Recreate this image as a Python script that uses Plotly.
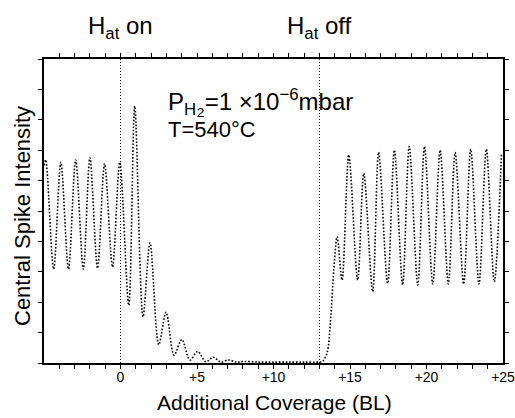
import plotly.graph_objects as go

coverage = [-5.0, -4.89, -4.37, -3.9, -3.4, -2.93, -2.43, -2.0, -1.5, -1.04, -0.52, -0.05,
            0.54, 0.93, 1.47, 1.93, 2.5, 2.98, 3.5, 4.01, 4.54, 5.05, 5.58, 6.06, 6.55, 7.04,
            7.6, 8.1, 9.0, 10.0, 11.0, 12.0, 13.0, 13.2, 13.5, 13.73, 13.94, 14.16, 14.48,
            14.92, 15.5, 15.9, 16.48, 16.87, 17.46, 17.9, 18.44, 18.87, 19.43, 19.87, 20.41,
            20.89, 21.43, 21.87, 22.43, 22.89, 23.43, 23.91, 24.43, 24.9]
intensity = [6.5, 6.68, 3.09, 6.6, 3.09, 6.68, 3.09, 6.75, 3.12, 6.55, 3.16, 6.6,
             1.9, 8.45, 1.52, 3.95, 0.6, 1.67, 0.26, 0.77, 0.1, 0.38, 0.04, 0.19, 0.03, 0.1,
             0.03, 0.05, 0.03, 0.03, 0.03, 0.03, 0.03, 0.05, 0.33, 1.41, 3.06, 4.15, 2.73,
             6.84, 2.73, 6.24, 2.35, 6.93, 2.62, 7.0, 2.57, 7.12, 2.57, 7.12, 2.6,
             7.0, 2.6, 6.92, 2.6, 7.03, 2.6, 7.03, 2.67, 6.9]

tick_vals = [0, 5, 10, 15, 20, 25]
tick_text = ["0", "+5", "+10", "+15", "+20", "+25"]
marker_lines = [0, 13]
marker_labels = ["H<sub>at</sub> on", "H<sub>at</sub> off"]

FONT = "Liberation Sans, Arial, Helvetica, sans-serif"
W, H = 515, 418
ML, MR, MT, MB = 44, 12, 59, 55
PW, PH = W - ML - MR, H - MT - MB


def px2paper(px, py):
    return (px - ML) / PW, (H - MB - py) / PH


fig = go.Figure()
fig.add_trace(go.Scatter(
    x=coverage, y=intensity, mode="lines",
    line=dict(color="black", width=1.6, dash="1.6px,1.8px", shape="spline", smoothing=0.9),
    hoverinfo="skip", showlegend=False,
))

for xv, lab in zip(marker_lines, marker_labels):
    fig.add_shape(type="line", x0=xv, x1=xv, y0=0, y1=1, xref="x", yref="paper",
                  line=dict(color="black", width=1, dash="1px,2px"))
    fig.add_annotation(x=xv, y=1, xref="x", yref="paper", yshift=32, text=lab,
                       showarrow=False, font=dict(size=24, color="black", family=FONT),
                       xanchor="center", yanchor="middle")

fig.add_annotation(x=3.0, y=8.58, xref="x", yref="y", xanchor="left", yanchor="middle",
                   text="P<sub>H<span style='font-size:22px'>₂</span></sub>=1 ×10<sup>−6</sup>mbar",
                   showarrow=False, font=dict(size=24, color="black", family=FONT))
fig.add_annotation(x=3.0, y=7.68, xref="x", yref="y", xanchor="left", yanchor="middle",
                   text="T=540°C", showarrow=False,
                   font=dict(size=22, color="black", family=FONT))

# axis titles placed as annotations for exact positioning
ax, ay = px2paper(274, 402)
fig.add_annotation(x=ax, y=ay, xref="paper", yref="paper", text="Additional Coverage (BL)",
                   showarrow=False, font=dict(size=21, color="black", family=FONT),
                   xanchor="center", yanchor="middle")
bx, by = px2paper(22, 216)
fig.add_annotation(x=bx, y=by, xref="paper", yref="paper", text="Central Spike Intensity",
                   textangle=-90, showarrow=False,
                   font=dict(size=22, color="black", family=FONT),
                   xanchor="center", yanchor="middle")

fig.update_xaxes(
    range=[-5, 25], tickvals=tick_vals, ticktext=tick_text,
    ticks="inside", ticklen=0.1, tickwidth=1, tickcolor="black",
    minor=dict(dtick=1, tick0=0, ticks="outside", ticklen=4, tickcolor="black", tickwidth=1),
    showline=True, linecolor="black", linewidth=1.5, mirror="ticks",
    showgrid=False, zeroline=False, automargin=False, ticklabeloverflow="allow",
    tickfont=dict(size=14, color="black", family=FONT),
)
fig.update_yaxes(
    range=[0, 10], dtick=1, showticklabels=False,
    ticks="outside", ticklen=4, tickwidth=1, tickcolor="black",
    showline=True, linecolor="black", linewidth=1.5, mirror="ticks",
    showgrid=False, zeroline=False, automargin=False,
)

fig.update_layout(
    width=W, height=H,
    margin=dict(l=ML, r=MR, t=MT, b=MB),
    paper_bgcolor="white", plot_bgcolor="white",
    font=dict(family=FONT, color="black"),
)

fig.write_html("out.html", config={"displayModeBar": False},
               post_script="document.body.style.margin='0px';document.body.style.overflow='hidden';")
